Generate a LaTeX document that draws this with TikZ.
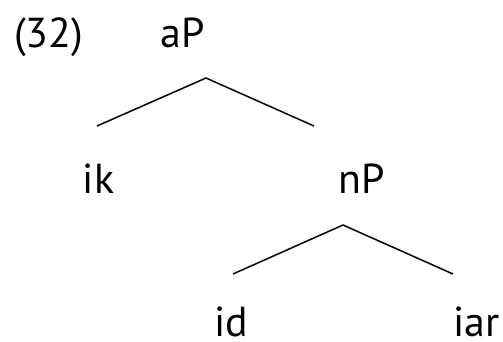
\documentclass[tikz,border=0pt]{standalone}
\usepackage{fontspec}
\setmainfont{PT Sans}
\begin{document}
\begin{tikzpicture}[x=1bp,y=-1bp,
  lbl/.style={inner sep=0pt,anchor=base,font=\fontsize{42}{48}\selectfont},
  branch/.style={line width=1.5bp}]
\useasboundingbox (0,0) rectangle (503,341);
\node[lbl,anchor=base west] (num) at (14,47) {(32)};
\node[lbl] (aP) at (182.5,47) {aP};
\node[lbl] (ik) at (98.5,193) {ik};
\node[lbl] (nP) at (361.5,193) {nP};
\node[lbl] (id) at (231,336) {id};
\node[lbl] (iar) at (476.5,336) {iar};
\coordinate (aPtop) at (206,78);
\coordinate (ikend) at (97,126);
\coordinate (nPend) at (314,126);
\coordinate (nPtop) at (343,225);
\coordinate (idend) at (233,274);
\coordinate (iarend) at (453,274);
\draw[branch] (ikend) -- (aPtop) -- (nPend);
\draw[branch] (idend) -- (nPtop) -- (iarend);
\end{tikzpicture}
\end{document}
